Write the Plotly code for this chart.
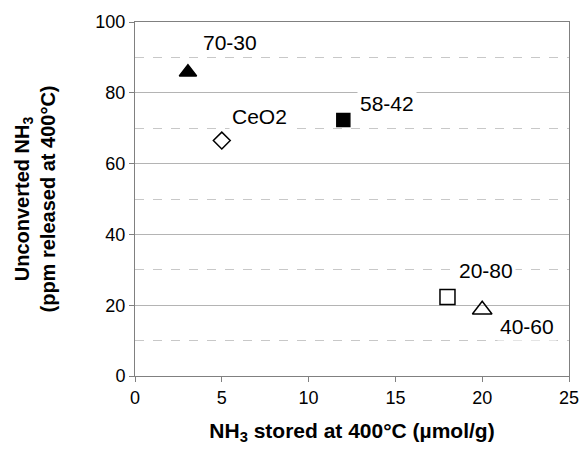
import plotly.graph_objects as go

# Catalyst samples: NH3 storage vs. unconverted NH3
samples = ["70-30", "CeO2", "58-42", "20-80", "40-60"]
nh3_stored = [3.05, 5.0, 12.0, 18.0, 20.0]
nh3_unconverted = [85.8, 66.5, 72.3, 22.3, 18.7]
symbols = ["triangle-up", "diamond-open", "square", "square-open", "triangle-up-open"]
sizes = [15, 13, 13, 15, 17]

# Label anchor points (data units)
label_x = [5.5, 7.15, 14.5, 20.2, 22.6]
label_y = [94.3, 73.3, 77.0, 29.8, 13.9]

x_ticks = [0, 5, 10, 15, 20, 25]
y_ticks = [0, 20, 40, 60, 80, 100]

FONT = "Liberation Sans, Arial, sans-serif"

fig = go.Figure()
for name, xv, yv, sym, sz in zip(samples, nh3_stored, nh3_unconverted, symbols, sizes):
    fig.add_trace(go.Scatter(
        x=[xv], y=[yv], mode="markers", name=name,
        marker=dict(symbol=sym, size=sz, color="black",
                    line=dict(color="black", width=1.5)),
        showlegend=False,
    ))

for name, lx, ly in zip(samples, label_x, label_y):
    fig.add_annotation(x=lx, y=ly, text=name, showarrow=False,
                       font=dict(family=FONT, size=21, color="black"),
                       bgcolor="white", borderpad=2)

axis_common = dict(
    showline=True, linecolor="#808080", linewidth=1, mirror=True,
    ticks="outside", ticklen=5, tickcolor="#808080",
    tickfont=dict(family=FONT, size=18, color="black"),
    zeroline=False, automargin=False,
)

fig.update_xaxes(
    range=[0, 25], tickvals=x_ticks, showgrid=False,
    title=dict(text="<b>NH<sub>3</sub> stored at 400°C (µmol/g)</b>",
               font=dict(family=FONT, size=21, color="black"),
               standoff=16),
    **axis_common,
)
fig.update_yaxes(
    range=[0, 100], tickvals=y_ticks, showgrid=True, gridcolor="#b4b4b4", gridwidth=1,
    minor=dict(dtick=10, tick0=0, showgrid=True, gridcolor="#c8c8c8",
               griddash="dash", gridwidth=1, ticks=""),
    title=dict(text="<b>Unconverted NH<sub>3</sub><br>(ppm released at 400°C)</b>",
               font=dict(family=FONT, size=20, color="black"),
               standoff=34),
    **axis_common,
)

fig.update_layout(
    width=581, height=451,
    margin=dict(l=135, r=12, t=22, b=75),
    plot_bgcolor="white", paper_bgcolor="white",
)

fig.write_html("out.html")
